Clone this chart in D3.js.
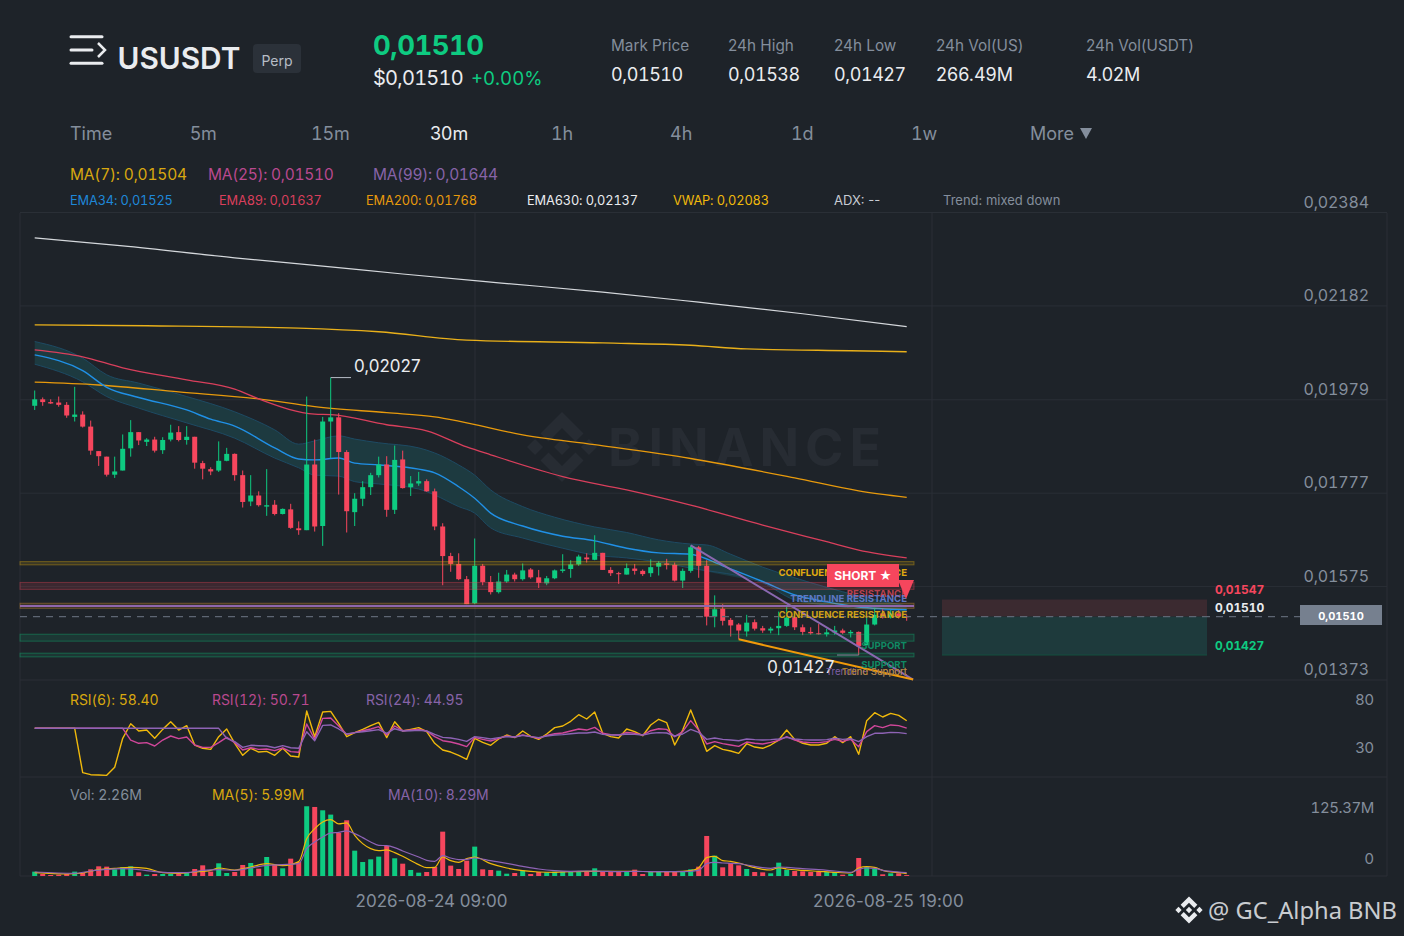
<!DOCTYPE html>
<html><head><meta charset="utf-8">
<script src="https://cdn.jsdelivr.net/npm/d3@7/dist/d3.min.js"></script>
<style>html,body{margin:0;padding:0;background:#1e2329;overflow:hidden}svg{display:block}</style>
</head><body><svg id="c" width="1404" height="936"></svg>
<script>
// prices are in units of 0.00001
const opens=[1966,1980,1974,1973,1968,1942,1947,1921,1868,1856,
1817,1826,1874,1909,1888,1893,1870,1893,1909,1892,
1899,1842,1829,1826,1847,1862,1816,1759,1772,1748,
1752,1732,1742,1701,1697,1839,1706,1932,1941,1866,
1736,1765,1790,1816,1839,1741,1850,1790,1798,1803,
1781,1705,1641,1624,1591,1539,1620,1585,1563,1586,
1601,1591,1612,1595,1582,1593,1609,1613,1623,1638,
1633,1648,1611,1604,1601,1614,1609,1604,1618,1625,
1622,1588,1609,1660,1620,1510,1527,1503,1493,1478,
1498,1485,1480,1485,1490,1509,1487,1477,1474,1472,
1476,1480,1474,1477,1448,1493,1517,1508,1517,1511];
const highs=[1999,1984,1980,1986,1974,2007,1954,1934,1868,1856,
1856,1904,1935,1909,1896,1899,1898,1925,1922,1922,
1899,1847,1833,1889,1875,1863,1826,1816,1781,1829,
1762,1744,1754,1716,1986,1893,1942,2027,1950,1870,
1777,1803,1821,1856,1857,1880,1869,1814,1823,1807,
1787,1712,1648,1647,1598,1679,1624,1598,1605,1611,
1605,1625,1615,1611,1598,1612,1645,1632,1644,1647,
1686,1648,1617,1607,1625,1624,1612,1634,1630,1635,
1627,1614,1664,1663,1632,1556,1537,1507,1496,1514,
1504,1490,1488,1521,1533,1510,1493,1487,1494,1484,
1490,1484,1481,1478,1508,1529,1526,1524,1524,1514];
const lows=[1957,1966,1970,1964,1940,1932,1919,1860,1836,1813,
1810,1826,1856,1881,1879,1865,1862,1889,1889,1882,
1830,1807,1816,1823,1846,1804,1746,1749,1748,1728,
1729,1731,1700,1687,1697,1694,1663,1853,1774,1692,
1706,1749,1773,1811,1726,1732,1787,1771,1793,1780,
1697,1578,1607,1589,1537,1537,1578,1558,1560,1583,
1586,1588,1592,1572,1578,1591,1605,1594,1620,1627,
1632,1611,1598,1581,1601,1601,1598,1596,1599,1612,
1586,1572,1605,1594,1491,1487,1491,1467,1461,1467,
1480,1475,1474,1470,1488,1481,1470,1471,1471,1467,
1471,1472,1465,1427,1448,1491,1506,1506,1506,1501];
const closes=[1980,1974,1971,1968,1945,1947,1921,1869,1857,1817,
1824,1873,1909,1891,1893,1869,1892,1908,1892,1899,
1843,1830,1824,1847,1862,1816,1758,1772,1751,1751,
1732,1743,1702,1697,1839,1705,1932,1941,1866,1738,
1765,1790,1816,1839,1741,1849,1788,1798,1803,1781,
1705,1641,1624,1591,1537,1620,1585,1563,1586,1601,
1591,1610,1595,1583,1593,1610,1612,1623,1640,1634,
1648,1611,1604,1602,1615,1609,1602,1617,1626,1622,
1588,1609,1660,1620,1510,1526,1501,1491,1480,1497,
1484,1480,1484,1490,1508,1487,1477,1474,1472,1476,
1480,1475,1477,1446,1493,1514,1508,1517,1511,1510];
const volumes=[10.7,4.9,2.5,3.3,4.9,10.7,7.4,16.4,23.8,23,
16.4,22.1,23.8,9,3.3,4.9,4.9,4.9,4.9,7.4,
17.2,26.2,10.7,31.2,7.4,9.8,27.1,32,18,46.7,
27.9,18.9,42.6,34.4,171.4,169.7,161.5,150.9,105.8,136.9,
62.3,34.4,41,47.6,73.8,43.5,30.3,14.8,8.2,9.8,
22.1,109,25.4,17.2,37.7,72.2,16.4,14.8,13.1,5.7,
7.4,13.1,4.9,9.8,9,10.7,11.5,10.7,9.8,10.7,
18.9,11.5,10.7,10.7,9.8,15.6,4.9,9.8,10.7,10.7,
9.8,10.7,16.4,23,98.4,50,21.3,32,26.2,17.2,
9.8,9,6.6,32.8,14.8,12.3,11.5,9.8,11.5,9.8,
9.8,3.3,4.9,44.3,22.1,17.2,4.1,6.6,6.6,2.26];

const ema630Idx=[0,11,25,36,46,58,71,83,96,109];
const ema630Val=[2329,2312,2286,2268,2251,2232,2212,2190,2165,2137];
const vwapIdx=[0,14,33,43,54,71,82,89,102,109];
const vwapVal=[2141,2139,2134,2126,2108,2102,2097,2089,2085,2083];
const ema200Idx=[0,8,18,28,35,44,50,53,61,70,82,95,103,109];
const ema200Val=[2017,2011,1996,1981,1964,1951,1942,1933,1903,1882,1852,1810,1782,1768];
const ema89Idx=[0,6,11,19,25,28,35,37,44,49,54,57,66,74,82,91,99,103,109];
const ema89Val=[2087,2072,2048,2022,2002,1981,1948,1947,1925,1912,1877,1860,1813,1784,1751,1708,1672,1654,1637];
const ema34Idx=[0,6,9,13,19,22,25,30,33,35,38,40,43,48,50,53,55,57,61,66,70,74,78,82,86,91,95,99,103,109];
const ema34Val=[2076,2042,2006,1984,1957,1937,1922,1875,1851,1849,1853,1842,1838,1829,1821,1791,1766,1734,1706,1684,1674,1658,1648,1645,1620,1586,1557,1542,1531,1525];
const bandUpIdx=[0,6,9,13,19,25,30,33,35,38,40,43,48,50,53,55,57,61,65,70,74,78,82,84,87,91,95,103,109];
const bandUpVal=[2105,2069,2033,2015,1986,1953,1914,1883,1890,1901,1894,1886,1875,1864,1838,1816,1784,1748,1725,1704,1692,1676,1667,1665,1645,1617,1594,1555,1533];
const bandLoIdx=[0,6,9,13,19,25,30,33,35,38,40,43,48,50,53,55,57,61,66,70,74,78,82,91,95,99,109];
const bandLoVal=[2056,2018,1986,1961,1929,1896,1853,1832,1816,1814,1802,1797,1786,1773,1748,1734,1702,1680,1658,1643,1637,1628,1615,1583,1546,1535,1521];

const rsi6=[50.5,50.5,50.5,50.5,50.5,50.5,4.3,2.2,1.9,1.5,
9.9,40.1,55.3,47.7,48.7,40.1,49.4,57.4,48.7,53.3,
33.1,29.7,28.6,41.8,49.8,34.9,22.4,29.7,25.8,26.5,
22.4,29.7,21.7,20.6,68.5,41.8,67.5,68.2,55.7,41.8,
46,49.4,53.3,56.7,40.8,57.4,47.7,49.4,51.2,47,
34.9,27.9,25.8,22.4,18.2,40.1,35.9,32.8,39.4,43.5,
40.8,47.7,42.2,39,44.6,51.2,52.9,57.8,64.7,60.2,
67.5,45.3,41.8,40.4,49.8,47,42.8,54,59.9,56.4,
33.1,48.7,69.6,48.7,26.5,32.4,28.6,26.9,24.4,34.5,
31,29.7,33.1,38.3,48.7,39,34.9,33.1,33.1,34.9,
41.8,35.6,41.8,23.4,58.5,66.8,62.3,66.1,64,58.4];
const rsi12=[50.5,50.5,50.5,50.5,50.5,50.5,50.5,50.5,50.5,50.5,
50.5,50.5,38.3,34.9,35.6,32.1,38.3,42.5,39.7,41.5,
33.1,30.7,30.7,35.6,41.1,35.6,27.9,30.3,28.6,29,
27.2,30,26.2,25.5,55,39,60.9,61.2,52.9,44.2,
46,48,49.8,52.2,43.5,52.9,48,48.7,49.4,47.7,
41.8,37.6,36.2,34.2,31.4,41.1,39,37.3,40.1,42.5,
41.5,43.5,41.8,40.1,43.2,44.9,45.6,47.7,49.8,48.7,
51.5,45.3,43.9,43.5,46.3,45.3,43.5,48,50.1,49.4,
41.8,47,58.5,48.7,34.2,36.6,34.5,33.1,31.7,36.2,
34.9,34.2,35.9,38,41.8,38.3,36.2,35.6,35.6,36.6,
39,36.9,39,31.4,47,53.3,51.2,54,53.3,50.71];
const rsi24=[50.5,50.5,50.5,50.5,50.5,50.5,50.5,50.5,50.5,50.5,
50.5,50.5,50.5,50.5,50.5,50.5,50.5,50.5,50.5,50.5,
50.5,50.5,50.5,50.5,40.1,36.6,30.7,32.8,32.4,32.1,
30.3,32.4,30.3,29.7,47,37.6,53.6,54,49.8,44.6,
46,47,48,49.1,45.3,50.1,47.7,48,48.4,47.7,
44.2,41.1,40.4,39,36.9,41.8,40.8,39.4,40.8,41.8,
41.5,43.2,41.8,40.8,42.5,43.5,43.9,44.9,45.6,45.6,
46.7,44.2,43.5,43.5,44.6,44.2,43.5,45.3,46,45.6,
42.5,44.6,49.4,46.3,39,40.4,39,38.3,37.6,39.4,
38.7,38.3,38.7,39.4,41.1,39.4,38.7,38.3,38.3,38.7,
40.1,39,39.7,36.6,41.8,45.3,45.3,46.3,46,44.95];

const volMa5Idx=[0,4,6,8,10,12,14,16,18,20,22,23,25,27,29,31,33,34,35,36,37,38,39,40,41,42,43,44,45,46,48,49,50,51,52,53,54,55,57,59,61,63,65,67,69,71,73,75,77,79,81,82,83,84,85,86,87,88,89,90,91,92,93,94,96,98,100,102,103,104,105,106,107,108,109];
const volMa5Val=[8.2,4.9,7.4,15.6,18.9,21.3,18.9,8.2,6.6,9.8,13.9,19.7,14.8,22.1,30.3,25.4,35.3,91.8,116.4,132.8,138.6,127.9,130.4,100,79.5,67.2,62.3,64,57.4,48.4,27.9,20.5,21.3,46.7,37.7,33.6,42.6,46.7,30.3,19.7,13.1,9.8,9,10.7,11.5,11.5,11.5,11.5,10.7,10.7,11.5,13.1,20.5,45.1,48.4,37.7,36.1,32,26.2,20.5,16.4,14.8,20.5,17.2,13.9,11.5,9,7.4,19.7,23,21.3,13.9,9.8,8.2,5.99];
const volMa10Idx=[0,5,7,9,11,13,15,17,19,21,23,25,27,29,31,33,34,35,36,37,38,39,40,41,42,43,44,45,46,48,49,50,51,52,53,54,55,57,59,61,63,65,67,69,71,73,75,77,79,81,83,84,85,86,87,88,89,90,91,92,93,94,96,98,100,102,103,104,105,106,107,109];
const volMa10Val=[9.8,6.6,12.3,16.4,18,15.6,10.7,8.2,8.2,13.9,15.6,13.9,19.7,26.2,27.9,30.3,67.2,83.6,95.9,105.8,107.4,110.7,104.1,94.3,83.6,75.4,74.6,69.7,61.5,46.7,38.5,36.1,50,44.3,40.2,41,44.3,37.7,31.2,23.8,17.2,13.1,11.5,12.3,11.5,10.7,11.5,10.7,10.7,10.7,13.9,30.3,33.6,32,31.2,30.3,27.1,23.8,20.5,18.9,22.1,21.3,18,15.6,12.3,9,16.4,19.7,18.9,13.9,11.5,8.29];

const priceTicks=[1373,1575,1777,1979,2182,2384];
const rsiTicks=[80,30];
const dateLabels=["2026-08-24 09:00","2026-08-25 19:00"];
const statLabels=["Mark Price","24h High","24h Low","24h Vol(US)","24h Vol(USDT)"];
const statValues=["0,01510","0,01538","0,01427","266.49M","4.02M"];
const tabs=["Time","5m","15m","30m","1h","4h","1d","1w","More"];

const UP="#0ecb81",DOWN="#f6465d",GRID="#2a2f36",MUTED="#848e9c",LIGHT="#eaecef";
const svg=d3.select("#c");
const fmt=v=>(v/1e5).toFixed(5).replace(".",",");
const x=d3.scaleLinear().domain([0,109]).range([34.7,906.7]);
const y=d3.scaleLinear().domain([1373,2384]).range([680,212.5]);
const yRsi=d3.scaleLinear().domain([80,30]).range([700,748]);
const yVol=d3.scaleLinear().domain([0,125.37]).range([876,825]);

function text(s,px,py,size,color,opts={}){
  const t=svg.append("text").attr("x",px).attr("y",py).attr("font-size",size).attr("fill",color)
   .attr("font-weight",opts.w||400).attr("text-anchor",opts.a||"start").attr("dominant-baseline","central")
   .attr("font-family",opts.f||"Inter,sans-serif").text(s);
  if(opts.tn)t.style("font-variant-numeric","tabular-nums").style("font-feature-settings",'"tnum"');
  if(opts.ls!==undefined)t.attr("letter-spacing",opts.ls);
  return t;
}
svg.append("rect").attr("width",1404).attr("height",936).attr("fill","#1e2329");

// grid
const gridG=svg.append("g").attr("stroke",GRID).attr("stroke-width",1);
priceTicks.forEach(t=>gridG.append("line").attr("x1",20).attr("x2",1387).attr("y1",y(t)).attr("y2",y(t)));
[777,876].forEach(v=>gridG.append("line").attr("x1",20).attr("x2",1387).attr("y1",v).attr("y2",v));
[475,932].forEach(v=>gridG.append("line").attr("x1",v).attr("x2",v).attr("y1",213).attr("y2",876));
[20,1387].forEach(v=>gridG.append("line").attr("x1",v).attr("x2",v).attr("y1",213).attr("y2",876));

// logo
function logo(g,cx,cy,s,fill){
  const t=g.append("g").attr("transform",`translate(${cx},${cy}) scale(${s})`).attr("fill",fill);
  ["M0,-20 L12.3,-7.7 L7.7,-3.1 L0,-10.8 L-7.7,-3.1 L-12.3,-7.7Z",
   "M0,20 L12.3,7.7 L7.7,3.1 L0,10.8 L-7.7,3.1 L-12.3,7.7Z",
   "M-20,0 L-15.4,-4.6 L-10.8,0 L-15.4,4.6Z","M20,0 L15.4,-4.6 L10.8,0 L15.4,4.6Z",
   "M0,-4.6 L4.6,0 L0,4.6 L-4.6,0Z"].forEach(d=>t.append("path").attr("d",d));
}
logo(svg,562,447,1.75,"#272c33");
text("BINANCE",608,447,52,"#272c33",{w:700,ls:6});

// EMA band
const upI=d3.scaleLinear().domain(bandUpIdx).range(bandUpVal),loI=d3.scaleLinear().domain(bandLoIdx).range(bandLoVal);
const allIdx=Array.from(new Set([...bandUpIdx,...bandLoIdx])).sort((a,b)=>a-b);
const area=d3.area().curve(d3.curveMonotoneX).x(d=>x(d)).y0(d=>y(loI(d))).y1(d=>y(upI(d)));
svg.append("path").attr("d",area(allIdx)).attr("fill","#1d3a40");
const line=(ix,val,sc,curve)=>d3.line().curve(curve||d3.curveLinear).x((d,i)=>x(ix[i])).y(d=>sc(d))(val);
function drawLine(ix,val,sc,color,w,curve){svg.append("path").attr("d",line(ix,val,sc,curve)).attr("fill","none").attr("stroke",color).attr("stroke-width",w).attr("stroke-linejoin","round");}
const smooth=d3.curveMonotoneX;
drawLine(bandUpIdx,bandUpVal,y,"#1d4a63",1,smooth);
drawLine(bandLoIdx,bandLoVal,y,"#1d4a63",1,smooth);
drawLine(ema630Idx,ema630Val,y,"#d5d8dc",1.2,smooth);
drawLine(vwapIdx,vwapVal,y,"#e9b01a",1.4,smooth);
drawLine(ema200Idx,ema200Val,y,"#e89a0c",1.3,smooth);
drawLine(ema89Idx,ema89Val,y,"#d93f5c",1.3,smooth);
drawLine(ema34Idx,ema34Val,y,"#2090e6",1.4,smooth);

// candles
const idx=d3.range(opens.length);
const col=i=>closes[i]>=opens[i]?UP:DOWN;
svg.append("g").selectAll("line").data(idx).join("line")
  .attr("x1",x).attr("x2",x).attr("y1",i=>y(highs[i])).attr("y2",i=>y(lows[i])).attr("stroke",col).attr("stroke-width",1);
svg.append("g").selectAll("rect").data(idx).join("rect")
  .attr("x",i=>x(i)-2.5).attr("width",5).attr("y",i=>y(Math.max(opens[i],closes[i])))
  .attr("height",i=>Math.max(1,Math.abs(y(opens[i])-y(closes[i])))).attr("fill",col);

// zones
const zones=[[1622,1629,"#f0b90b",.14],[1569,1584,"#f6465d",.14],[1528,1539,"#f0a030",.14],[1457,1472,"#0ecb81",.12],[1423,1431,"#0ecb81",.12]];
zones.forEach(z=>svg.append("rect").attr("x",20).attr("width",894).attr("y",y(z[1])).attr("height",y(z[0])-y(z[1]))
  .attr("fill",z[2]).attr("fill-opacity",z[3]).attr("stroke",z[2]).attr("stroke-opacity",0.35).attr("stroke-width",1));
svg.append("line").attr("x1",20).attr("x2",914).attr("y1",y(1533)).attr("y2",y(1533)).attr("stroke","#8f66ad").attr("stroke-width",2);

// trend lines
drawLine([82,109.8],[1664,1374],y,"#8a68b0",2);
drawLine([88,109.8],[1461,1374],y,"#f09a0a",2);

// current price dashed line
svg.append("line").attr("x1",20).attr("x2",1300).attr("y1",y(1510)).attr("y2",y(1510)).attr("stroke","#5e6673").attr("stroke-dasharray","7 6").attr("stroke-width",1.2);

// target boxes
svg.append("rect").attr("x",942).attr("width",265).attr("y",y(1547)).attr("height",y(1510)-y(1547)).attr("fill","#3b2a30");
svg.append("rect").attr("x",942).attr("width",265).attr("y",y(1510)).attr("height",y(1427)-y(1510)).attr("fill","#1e3a3c");
svg.append("line").attr("x1",942).attr("x2",1207).attr("y1",y(1427)).attr("y2",y(1427)).attr("stroke","#14503f");
svg.append("line").attr("x1",942).attr("x2",1207).attr("y1",y(1510)).attr("y2",y(1510)).attr("stroke","#5e6673").attr("stroke-dasharray","7 6").attr("stroke-width",1.2);
text(fmt(1547),1215,589.5,12,DOWN,{w:700,tn:1,ls:-.1});
text(fmt(1510),1215,607,12,LIGHT,{w:700,tn:1,ls:-.1});
text(fmt(1427),1215,645,12,UP,{w:700,tn:1,ls:-.1});

// price tag
svg.append("rect").attr("x",1300).attr("y",605).attr("width",82).attr("height",20).attr("fill","#76808f");
text(fmt(1510),1341,615.5,11,"#fff",{w:700,a:"middle",tn:1});

// annotated extremes
svg.append("path").attr("d",`M${x(37)},${y(2027)}H351`).attr("stroke","#b7bdc6").attr("fill","none");
text(fmt(2027),354,366,17,LIGHT);
svg.append("path").attr("d",`M${x(103)},${y(1427)}H837`).attr("stroke","#848e9c").attr("fill","none");
text(fmt(1427),767,667,17,LIGHT,{tn:1,ls:-.4});

// chart labels
const lab=(s,yy,c,o)=>text(s,907,yy,9.6,c,{w:700,a:"end",...(o||{})});
lab("CONFLUENCE RESISTANCE",572,"#e0ab10");
lab("RESISTANCE",593,"#b9404f");
lab("TRENDLINE RESISTANCE",598.5,"#5f78c4");
lab("CONFLUENCE RESISTANCE",614,"#cfa117");
lab("SUPPORT",645,"#0f8a63");
lab("SUPPORT",664,"#0f8a63");
lab("Trendline Support",671,"#7f5fa5",{w:400});
lab("Trend Support",671,"#b98a2a",{w:400});
svg.append("rect").attr("x",827).attr("y",564).attr("width",72).attr("height",23).attr("fill",DOWN);
text("SHORT ★",863,575.5,12,"#fff",{w:700,a:"middle"});
svg.append("path").attr("d","M898,580H914L906,599Z").attr("fill",DOWN);

// RSI
drawLine(idx,rsi6,yRsi,"#f0b90b",1.4);
drawLine(idx,rsi12,yRsi,"#d0479a",1.4);
drawLine(idx,rsi24,yRsi,"#8e63b5",1.4);

// Volume
svg.append("g").selectAll("rect").data(idx).join("rect")
  .attr("x",i=>x(i)-2.5).attr("width",5).attr("y",i=>yVol(volumes[i])).attr("height",i=>yVol(0)-yVol(volumes[i])).attr("fill",col);
drawLine(volMa5Idx,volMa5Val,yVol,"#f0b90b",1.2,smooth);
drawLine(volMa10Idx,volMa10Val,yVol,"#8e63b5",1.2,smooth);

// Right axis labels
priceTicks.forEach(t=>text(fmt(t),1369,y(t)-11,16,MUTED,{a:"end",tn:1,ls:-.15}));
rsiTicks.forEach(t=>text(t,1374,yRsi(t)-.5,15,MUTED,{a:"end"}));
text("125.37M",1374,807.5,15,MUTED,{a:"end",tn:1,ls:-.4});
text("0",1374,858.5,15,MUTED,{a:"end"});
text(dateLabels[0],431.5,900.5,17,MUTED,{a:"middle"});
text(dateLabels[1],888.5,900.5,17,MUTED,{a:"middle",ls:.2});

// header
[[36.7,102],[50,92],[63.3,102]].forEach(a=>svg.append("line").attr("x1",71).attr("x2",a[1]).attr("y1",a[0]).attr("y2",a[0]).attr("stroke",LIGHT).attr("stroke-width",3).attr("stroke-linecap","round"));
svg.append("path").attr("d","M98,43L105,50L98,57").attr("fill","none").attr("stroke",LIGHT).attr("stroke-width",2.5);
text("USUSDT",117.5,58,29.8,LIGHT,{w:600});
svg.append("rect").attr("x",253).attr("y",44).attr("width",48).attr("height",29).attr("rx",4).attr("fill","#2b3139");
text("Perp",277,60,14,"#b7bdc6",{a:"middle"});
text("0,01510",373,45,27.5,UP,{w:700,tn:1,ls:-.5});
text("$0,01510",373,78,20,LIGHT,{tn:1,ls:-.75});
text("+0.00%",471,78,18.6,UP,{tn:1});
[611,728,834,936,1086].forEach((px,i)=>{text(statLabels[i],px,45,15.3,MUTED);
  const one=/1/.test(statValues[i]);text(statValues[i],px,74,18,LIGHT,one?{tn:1,ls:-.43}:{});});
[70,190,311,430,551,670,791,911,1030].forEach((px,i)=>text(tabs[i],px,133,18,i===3?LIGHT:MUTED,/1/.test(tabs[i])?{tn:1,ls:-.2}:{}));
svg.append("path").attr("d","M1080,128H1092L1086,139Z").attr("fill",MUTED);
text("MA(7): 0,01504",70,174,15.5,"#d9a80f",{tn:1,ls:-.2});
text("MA(25): 0,01510",208,174,15.5,"#b9498f",{tn:1,ls:-.27});
text("MA(99): 0,01644",373,174,15.5,"#8763a8",{tn:1,ls:-.33});
[["EMA34: 0,01525",70,"#1e88d8"],["EMA89: 0,01637",219,"#d93f5c"],["EMA200: 0,01768",366,"#e89a0c"],["EMA630: 0,02137",527,"#eaecef"],["VWAP: 0,02083",673,"#f0b90b"]]
 .forEach(a=>text(a[0],a[1],200,12.8,a[2],{tn:1,ls:-.15}));
text("ADX: --",834,200,13,"#c7ccd3");
text("Trend: mixed down",943,200,13,"#848e9c");
text("RSI(6): 58.40",70,699,14,"#d9a80f",{tn:1,ls:-.07});
text("RSI(12): 50.71",212,699,14,"#b9498f",{tn:1,ls:-.07});
text("RSI(24): 44.95",366,699,14,"#8763a8",{tn:1,ls:-.07});
text("Vol: 2.26M",70,794,14,MUTED,{tn:1});
text("MA(5): 5.99M",212,794,14,"#d9a80f",{tn:1,ls:-.1});
text("MA(10): 8.29M",388,794,14,"#8763a8",{tn:1,ls:-.15});

// footer watermark
logo(svg,1189,910,0.68,"#eaecef");
text("@ GC_Alpha BNB",1208,910,23.7,"#c9ccd0",{f:"'Noto Sans',sans-serif"});
</script></body></html>
